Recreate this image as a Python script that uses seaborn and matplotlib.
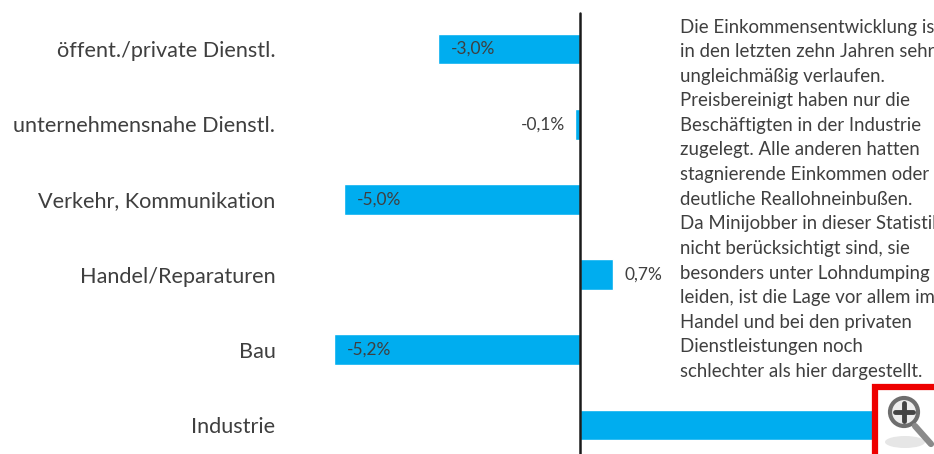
#!/usr/bin/env python3
"""Einkommensentwicklung nach Branchen, horizontal bars with a side note."""

import pandas as pd
import matplotlib
matplotlib.use("Agg")
import matplotlib.pyplot as plt
from matplotlib.patches import Circle, Ellipse, Rectangle
import seaborn as sns

categories = ["öffent./private Dienstl.", "unternehmensnahe Dienstl.",
              "Verkehr, Kommunikation", "Handel/Reparaturen", "Bau", "Industrie"]
values = [-3.0, -0.1, -5.0, 0.7, -5.2, 6.5]
value_labels = ["-3,0%", "-0,1%", "-5,0%", "0,7%", "-5,2%", ""]
note_lines = [
    "Die Einkommensentwicklung ist",
    "in den letzten zehn Jahren sehr",
    "ungleichmäßig verlaufen.",
    "Preisbereinigt haben nur die",
    "Beschäftigten in der Industrie",
    "zugelegt. Alle anderen hatten",
    "stagnierende Einkommen oder",
    "deutliche Reallohneinbußen.",
    "Da Minijobber in dieser Statistik",
    "nicht berücksichtigt sind, sie",
    "besonders unter Lohndumping",
    "leiden, ist die Lage vor allem im",
    "Handel und bei den privaten",
    "Dienstleistungen noch",
    "schlechter als hier dargestellt.",
]

W, H = 934, 454
PX_PER_UNIT = 47.3
ZERO_X = 580
ROW_PX = 75.2
FIRST_ROW_Y = 49
AXES_LEFT = 281
TEXT_COLOR = "#3f3f3f"

sns.set_theme(style="white")
plt.rcParams["font.family"] = ["Lato", "DejaVu Sans"]

df = pd.DataFrame({"branche": categories, "wert": values})

fig = plt.figure(figsize=(W / 100, H / 100), dpi=100)
ax = fig.add_axes([AXES_LEFT / W, 0, 1 - AXES_LEFT / W, 1])
sns.barplot(data=df, y="branche", x="wert", orient="h", color="#00adef",
            saturation=1, width=0.41, ax=ax)

ax.set_xlim((AXES_LEFT - ZERO_X) / PX_PER_UNIT, (W - ZERO_X) / PX_PER_UNIT)
ax.set_ylim((H - FIRST_ROW_Y) / ROW_PX, -FIRST_ROW_Y / ROW_PX)
sns.despine(ax=ax, left=True, bottom=True)
ax.set_xticks([])
ax.set_xlabel("")
ax.set_ylabel("")
ax.tick_params(axis="y", length=0, pad=4, labelsize=15.6, labelcolor=TEXT_COLOR)

# axis line starts a bit below the top edge
ax.plot([0, 0], [ax.get_ylim()[1] + 13 / ROW_PX, ax.get_ylim()[0]],
        color="#1a1a1a", lw=1.8, zorder=5)

# labels sit inside the long bars, outside the short ones
for i, (val, lab) in enumerate(zip(values, value_labels)):
    if not lab:
        continue
    if val <= -1:
        ax.text(val + 13 / PX_PER_UNIT, i, lab, ha="left", va="center",
                fontsize=12.5, color=TEXT_COLOR)
    elif val < 0:
        ax.text(val - 10 / PX_PER_UNIT, i, lab, ha="right", va="center",
                fontsize=12.5, color=TEXT_COLOR)
    else:
        ax.text(val + 11 / PX_PER_UNIT, i, lab, ha="left", va="center",
                fontsize=12.5, color=TEXT_COLOR)

for i, line in enumerate(note_lines):
    fig.text(680 / W, 1 - (27 + i * 24.6) / H, line, ha="left", va="center",
             fontsize=13.4, color=TEXT_COLOR)

# zoom badge in the lower right corner
overlay = fig.add_axes([0, 0, 1, 1], facecolor="none")
overlay.set_xlim(0, W)
overlay.set_ylim(H, 0)
overlay.axis("off")
overlay.add_patch(Rectangle((875, 387), 70, 80, facecolor="white",
                            edgecolor="#ee0000", lw=4.5))
overlay.add_patch(Ellipse((905, 442), 40, 12, facecolor="#e6e6e6",
                          edgecolor="none"))
overlay.plot([915, 931], [426, 444], color="#8a8a8a", lw=4.5,
             solid_capstyle="round")
overlay.add_patch(Circle((904, 412), 14, facecolor="#eeeeee",
                         edgecolor="#6e6e6e", lw=3))
overlay.plot([895, 913], [412, 412], color="#444444", lw=3.5)
overlay.plot([904, 904], [403, 421], color="#444444", lw=3.5)

fig.savefig("out.png", dpi=100)
plt.close(fig)
